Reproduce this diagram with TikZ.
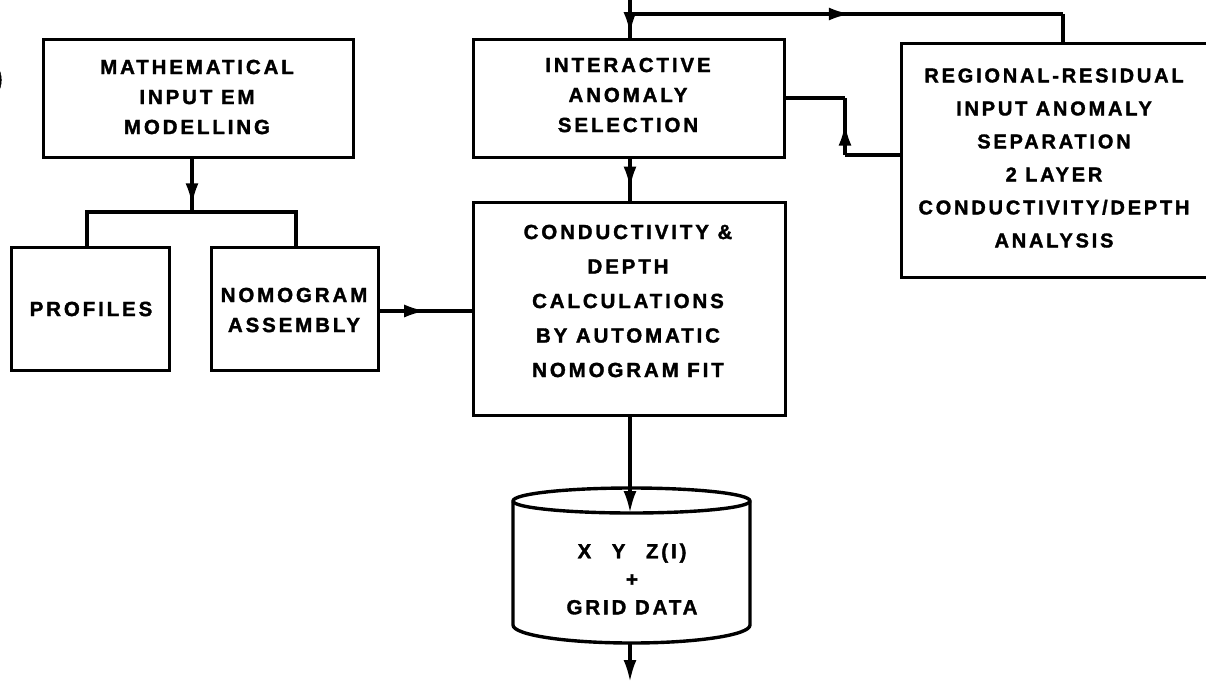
\documentclass[tikz,border=0pt]{standalone}
\usepackage{fontspec}
\newfontfamily\diafont{Liberation Sans}[LetterSpace=14, BoldFeatures={FakeBold=1.6}]
\usetikzlibrary{arrows.meta,decorations.markings}
\tikzset{
  ln/.style={line width=3.4pt},
  frame/.style={draw, ln, inner sep=0pt, anchor=north west},
  txt/.style={align=center, inner sep=0pt,
    font=\diafont\bfseries\fontsize{20.5}{30}\selectfont},
  txtwide/.style={txt, font=\diafont\bfseries\fontsize{20.5}{34.5}\selectfont},
  tip/.style={-{Latex[length=22pt,width=13pt]}},
  midarrow/.style={postaction={decorate},
    decoration={markings, mark=at position #1 with {\arrow{Latex[length=22pt,width=13pt]}}}},
}
\begin{document}
\begin{tikzpicture}[x=1pt,y=-1pt]
\useasboundingbox (0,0) rectangle (1206,682);
\fill[white] (0,0) rectangle (1206,682);

% fragment of a label at the left edge
\node[txt, anchor=east, font=\diafont\bfseries\fontsize{30}{30}\selectfont] (lbl) at (3,80) {)};

% boxes (frames)
\node[frame, minimum width=310pt, minimum height=118pt] (math) at (42,38) {};
\node[frame, minimum width=158pt, minimum height=123pt] (prof) at (10,246) {};
\node[frame, minimum width=167pt, minimum height=123pt] (nomo) at (210,246) {};
\node[frame, minimum width=311pt, minimum height=118pt] (inter) at (472,38) {};
\node[frame, minimum width=312pt, minimum height=213pt] (cond) at (472,201) {};
\node[frame, minimum width=320pt, minimum height=234pt] (reg) at (900,42) {};

% texts
\node[txt] (math-t) at (197,97) {MATHEMATICAL\\INPUT EM\\MODELLING};
\node[txt] (prof-t) at (91,309) {PROFILES};
\node[txt] (nomo-t) at (294,310) {NOMOGRAM\\ASSEMBLY};
\node[txt] (inter-t) at (628,95) {INTERACTIVE\\ANOMALY\\SELECTION};
\node[txtwide] (cond-t) at (628,301) {CONDUCTIVITY \&\\DEPTH\\CALCULATIONS\\BY AUTOMATIC\\NOMOGRAM FIT};
\node[txtwide, font=\diafont\bfseries\fontsize{20}{33}\selectfont] (reg-t) at (1054,158) {REGIONAL-RESIDUAL\\INPUT ANOMALY\\SEPARATION\\2 LAYER\\CONDUCTIVITY/DEPTH\\ANALYSIS};

% cylinder
\draw[ln] (513,625) -- (513,501)
  arc[start angle=180, end angle=0, x radius=118.5pt, y radius=13pt]
  -- (750,625)
  arc[start angle=0, end angle=-180, x radius=118.5pt, y radius=18pt];
\draw[ln] (513,501) arc[start angle=180, end angle=360, x radius=118.5pt, y radius=12pt];
\coordinate (cyltop) at (630,513);
\coordinate (cylbot) at (630,643);
\node[txt, font=\diafont\bfseries\fontsize{20.5}{28}\selectfont] (cyl-t) at (632,579) {X\quad Y\quad Z(I)\\+\\GRID DATA};

% connector coordinates
\coordinate (mathout) at (192,156);
\coordinate (bar) at (192,212);
\coordinate (barL) at (87,212);
\coordinate (barR) at (296,212);
\coordinate (top) at (630,0);
\coordinate (split) at (630,14);
\coordinate (corner) at (1063,14);
\coordinate (retA) at (845,155);
\coordinate (retB) at (845,98);
\coordinate (bottom) at (630,682);

% connectors
\draw[ln, midarrow=0.88] (mathout) -- (bar);
\draw[ln] (barL |- prof.north) -- (barL) -- (barR) -- (barR |- nomo.north);
\draw[ln, midarrow=0.5] (nomo.east |- 0,311) -- (cond.west |- 0,311);
\draw[ln, midarrow=0.9] (top) -- (top |- inter.north);
\draw[ln, midarrow=0.51] (split) -- (corner);
\draw[ln] (corner) -- (corner |- reg.north);
\draw[ln] (reg.west |- retA) -- (retA);
\draw[ln, midarrow=0.55] (retA) -- (retB);
\draw[ln] (retB) -- (inter.east |- retB);
\draw[ln, midarrow=0.7] (split |- inter.south) -- (split |- cond.north);
\draw[ln, tip] (split |- cond.south) -- (cyltop);
\draw[ln, tip] (cylbot) -- (bottom);
\end{tikzpicture}
\end{document}
